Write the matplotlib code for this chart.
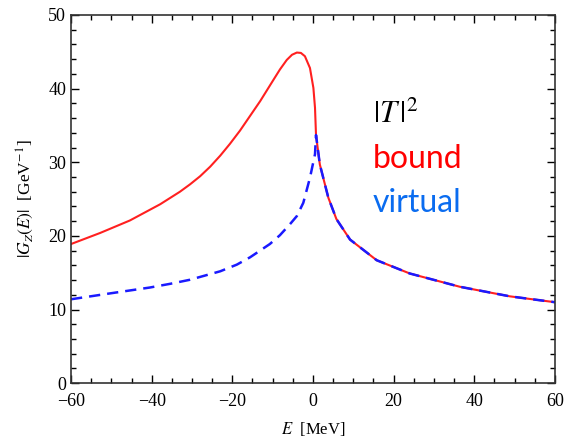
import matplotlib.pyplot as plt
from matplotlib.ticker import MultipleLocator

# values
E_bound = [-60, -52.8, -45.4, -37.9, -33, -30.5, -28, -25.5, -23, -20.6, -18.1, -15.6, -13.1,
           -9.8, -8.2, -6.5, -5.2, -4.0, -3.0, -2.0, -0.75, 0.1, 0.5, 0.75]
G_bound = [18.9, 20.4, 22.1, 24.3, 26.0, 27.0, 28.1, 29.4, 30.9, 32.5, 34.3, 36.3, 38.3,
           41.2, 42.6, 43.9, 44.6, 44.9, 44.85, 44.4, 42.8, 40.1, 37.4, 33.7]

E_virtual = [-60, -50.3, -40.4, -35.4, -30.5, -23, -18.9, -15.6, -10.7, -8.2, -5.7, -4.0,
             -2.4, -0.75, 0.5, 0.75]
G_virtual = [11.4, 12.2, 13.0, 13.5, 14.05, 15.2, 16.1, 17.1, 18.9, 20.1, 21.6, 22.7,
             24.5, 27.9, 31.1, 33.7]

# above threshold both curves coincide
E_tail = [0.75, 1.7, 3.8, 5.8, 9.2, 15.8, 24, 36.4, 48.8, 60]
G_tail = [33.7, 29.7, 25.2, 22.3, 19.5, 16.7, 14.9, 13.1, 11.8, 11.0]

plt.rcParams['mathtext.fontset'] = 'stix'
plt.rcParams['font.family'] = 'Liberation Serif'

fig = plt.figure(figsize=(5.7, 4.41), dpi=100)
ax = fig.add_axes([0.1246, 0.131, 0.849, 0.835])

ax.plot(E_bound + E_tail[1:], G_bound + G_tail[1:], color='#ff2020', lw=1.5)
ax.plot(E_virtual + E_tail[1:], G_virtual + G_tail[1:], color='#1a1aff', lw=1.8,
        ls=(0, (4.5, 2.8)))

ax.set_xlim(-60, 60)
ax.set_ylim(0, 50)
ax.xaxis.set_major_locator(MultipleLocator(20))
ax.xaxis.set_minor_locator(MultipleLocator(5))
ax.yaxis.set_major_locator(MultipleLocator(10))
ax.yaxis.set_minor_locator(MultipleLocator(2))
ax.tick_params(which='both', direction='in', top=True, right=True, labelsize=13, width=1)
ax.tick_params(which='major', length=6)
ax.tick_params(which='minor', length=3.5)
ax.tick_params(axis='x', pad=7)
ax.set_xticks([-60, -40, -20, 0, 20, 40, 60])
ax.set_xticklabels(['\u221260', '\u221240', '\u221220', '0', '20', '40', '60'])
ax.set_yticks([0, 10, 20, 30, 40, 50])
ax.set_yticklabels(['0', '10', '20', '30', '40', '50'])
for s in ax.spines.values():
    s.set_linewidth(1.2)
    s.set_color('#333333')

ax.set_xlabel(r'$E$  [MeV]', fontsize=12, labelpad=7)
ax.set_ylabel(r'$|G_Z(E)|$  [GeV$^{-1}$]', fontsize=12.5, labelpad=9)

ax.text(14.9, 35.3, r'$|T\,|^2$', fontsize=22, color='black', va='baseline')
ax.text(14.9, 29.2, 'bound', fontsize=23, color='#ff0000', va='baseline', family='Lato')
ax.text(14.7, 23.2, 'virtual', fontsize=23, color='#0a6cf0', va='baseline', family='Lato')

fig.savefig('out.png', dpi=100)
